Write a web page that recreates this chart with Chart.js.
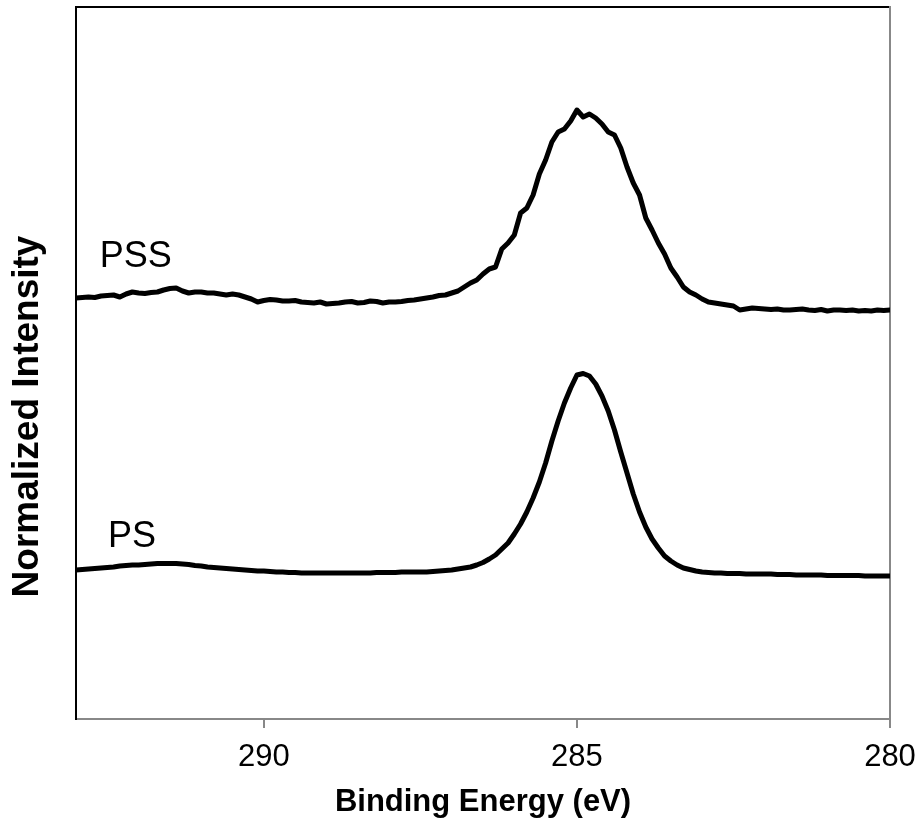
<!DOCTYPE html>
<html lang="en">
<head>
    <meta charset="UTF-8">
    <title>XPS C1s</title>
    <style>
        body { margin: 0; background: #fff; }
    </style>
</head>
<body>
    <canvas id="myChart" width="921" height="826"></canvas>
</body>
<script src="https://cdn.jsdelivr.net/npm/chart.js@4.4.0/dist/chart.umd.min.js"></script>
<script>
    // binding energy (eV), 0.1 eV steps
    var energias = [
        293.0, 292.9, 292.8, 292.7, 292.6, 292.5, 292.4, 292.3, 292.2, 292.1,
        292.0, 291.9, 291.8, 291.7, 291.6, 291.5, 291.4, 291.3, 291.2, 291.1,
        291.0, 290.9, 290.8, 290.7, 290.6, 290.5, 290.4, 290.3, 290.2, 290.1,
        290.0, 289.9, 289.8, 289.7, 289.6, 289.5, 289.4, 289.3, 289.2, 289.1,
        289.0, 288.9, 288.8, 288.7, 288.6, 288.5, 288.4, 288.3, 288.2, 288.1,
        288.0, 287.9, 287.8, 287.7, 287.6, 287.5, 287.4, 287.3, 287.2, 287.1,
        287.0, 286.9, 286.8, 286.7, 286.6, 286.5, 286.4, 286.3, 286.2, 286.1,
        286.0, 285.9, 285.8, 285.7, 285.6, 285.5, 285.4, 285.3, 285.2, 285.1,
        285.0, 284.9, 284.8, 284.7, 284.6, 284.5, 284.4, 284.3, 284.2, 284.1,
        284.0, 283.9, 283.8, 283.7, 283.6, 283.5, 283.4, 283.3, 283.2, 283.1,
        283.0, 282.9, 282.8, 282.7, 282.6, 282.5, 282.4, 282.3, 282.2, 282.1,
        282.0, 281.9, 281.8, 281.7, 281.6, 281.5, 281.4, 281.3, 281.2, 281.1,
        281.0, 280.9, 280.8, 280.7, 280.6, 280.5, 280.4, 280.3, 280.2, 280.1,
        280.0
    ];

    // normalized intensity (offset for stacking)
    var valoresPSS = [
        84.2, 84.3, 84.4, 84.3, 84.6, 84.7, 84.8, 84.4, 85.0, 85.4,
        85.2, 85.1, 85.3, 85.4, 85.8, 86.1, 86.2, 85.6, 85.2, 85.4,
        85.4, 85.2, 85.2, 85.0, 84.8, 85.0, 84.8, 84.4, 84.0, 83.4,
        83.7, 83.9, 83.8, 83.6, 83.6, 83.7, 83.4, 83.3, 83.2, 83.4,
        83.0, 83.1, 83.2, 83.4, 83.5, 83.2, 83.3, 83.6, 83.5, 83.2,
        83.4, 83.4, 83.5, 83.7, 83.8, 84.0, 84.2, 84.4, 84.7, 84.8,
        85.2, 85.6, 86.4, 87.2, 87.8, 89.0, 90.0, 90.4, 94.0, 95.2,
        96.8, 101.2, 102.2, 104.8, 109.0, 111.8, 115.4, 117.4, 118.0, 119.6,
        121.8, 120.4, 121.0, 120.2, 119.0, 117.4, 116.8, 114.2, 110.4, 107.2,
        104.8, 100.2, 97.8, 95.2, 93.0, 90.2, 88.4, 86.4, 85.4, 84.8,
        84.0, 83.4, 83.2, 83.0, 82.8, 82.6, 81.8, 82.0, 82.2, 82.1,
        82.0, 81.9, 82.0, 81.8, 81.8, 81.9, 82.0, 81.8, 81.7, 81.9,
        81.6, 81.8, 81.8, 81.7, 81.8, 81.6, 81.7, 81.6, 81.8, 81.7,
        81.8
    ];

    var valoresPS = [
        29.8, 29.9, 30.0, 30.1, 30.2, 30.3, 30.4, 30.6, 30.7, 30.8,
        30.8, 30.9, 31.0, 31.1, 31.1, 31.1, 31.1, 31.0, 30.9, 30.7,
        30.6, 30.4, 30.3, 30.2, 30.1, 30.0, 29.9, 29.8, 29.7, 29.6,
        29.6, 29.5, 29.4, 29.4, 29.3, 29.3, 29.2, 29.2, 29.2, 29.2,
        29.2, 29.2, 29.2, 29.2, 29.2, 29.2, 29.2, 29.2, 29.3, 29.3,
        29.3, 29.3, 29.4, 29.4, 29.4, 29.4, 29.4, 29.5, 29.6, 29.7,
        29.8, 30.0, 30.2, 30.4, 30.8, 31.3, 32.0, 32.8, 34.0, 35.2,
        37.0, 39.0, 41.4, 44.2, 47.4, 51.2, 55.6, 59.6, 63.2, 66.2,
        68.8, 69.1, 68.6, 67.0, 64.6, 61.6, 57.8, 53.4, 49.2, 45.0,
        41.4, 38.4, 36.0, 34.2, 32.6, 31.6, 30.8, 30.2, 29.9, 29.6,
        29.4, 29.3, 29.2, 29.2, 29.1, 29.1, 29.1, 29.0, 29.0, 29.0,
        29.0, 29.0, 28.9, 28.9, 28.9, 28.8, 28.8, 28.8, 28.8, 28.8,
        28.7, 28.7, 28.7, 28.7, 28.7, 28.7, 28.6, 28.6, 28.6, 28.6,
        28.6
    ];

    var nombres = ["PSS", "PS"];
    var ticksX = [290, 285, 280];

    var fuente = "'Liberation Sans', Arial, sans-serif";

    function puntos(valores) {
        return energias.map(function (e, i) { return { x: e, y: valores[i] }; });
    }

    // series names written next to each curve, plus the rotated y title
    var etiquetas = {
        id: 'etiquetas',
        afterDraw: function (chart) {
            var ctx = chart.ctx;
            var x = chart.scales.x, y = chart.scales.y;
            ctx.save();
            ctx.fillStyle = '#000';
            ctx.font = "36px " + fuente;
            ctx.textAlign = 'left';
            ctx.textBaseline = 'alphabetic';
            ctx.fillText(nombres[0], x.getPixelForValue(292.62), y.getPixelForValue(90.4));
            ctx.fillText(nombres[1], x.getPixelForValue(292.49), y.getPixelForValue(34.4));

            ctx.translate(38, 416.5);
            ctx.rotate(-Math.PI / 2);
            ctx.font = "bold 37px " + fuente;
            ctx.textAlign = 'center';
            ctx.fillText('Normalized Intensity', 0, 0);
            ctx.restore();
        }
    };

    var ctx = document.getElementById('myChart').getContext('2d');
    var myChart = new Chart(ctx, {
        type: 'line',
        data: {
            datasets: [{
                label: nombres[0],
                data: puntos(valoresPSS),
                borderColor: '#000',
                borderWidth: 5,
                pointRadius: 0,
                borderJoinStyle: 'round',
                borderCapStyle: 'round',
                tension: 0
            }, {
                label: nombres[1],
                data: puntos(valoresPS),
                borderColor: '#000',
                borderWidth: 5,
                pointRadius: 0,
                borderJoinStyle: 'round',
                borderCapStyle: 'round',
                tension: 0
            }]
        },
        options: {
            responsive: false,
            animation: false,
            layout: { padding: { left: 76, right: 31, top: 7, bottom: 8 } },
            plugins: {
                legend: { display: false },
                tooltip: { enabled: false }
            },
            scales: {
                x: {
                    type: 'linear',
                    position: 'bottom',
                    reverse: true,
                    min: 280,
                    max: 293,
                    afterBuildTicks: function (scale) {
                        scale.ticks = ticksX.map(function (v) { return { value: v }; });
                    },
                    afterFit: function (scale) {
                        scale.paddingLeft = 0;
                        scale.paddingRight = 0;
                    },
                    ticks: {
                        color: '#000',
                        padding: 10.4,
                        maxRotation: 0,
                        font: { family: fuente, size: 31 }
                    },
                    grid: {
                        drawOnChartArea: false,
                        drawTicks: true,
                        tickLength: 9,
                        color: '#888',
                        lineWidth: 2
                    },
                    border: { color: '#888', width: 2 },
                    title: {
                        display: true,
                        text: 'Binding Energy (eV)',
                        color: '#000',
                        padding: { top: 1, bottom: 0 },
                        font: { family: fuente, size: 31, weight: 'bold', lineHeight: 1 }
                    }
                },
                x2: {
                    type: 'linear',
                    position: 'top',
                    reverse: true,
                    min: 280,
                    max: 293,
                    ticks: { display: false },
                    grid: { display: false, drawTicks: false },
                    border: { color: '#000', width: 2 }
                },
                y: {
                    min: 0,
                    max: 142.4,
                    ticks: { display: false },
                    grid: { display: false, drawTicks: false },
                    border: { color: '#000', width: 2 }
                },
                y2: {
                    position: 'right',
                    min: 0,
                    max: 142.4,
                    ticks: { display: false },
                    grid: { display: false, drawTicks: false },
                    border: { color: '#888', width: 2 }
                }
            }
        },
        plugins: [etiquetas]
    });
</script>
</html>
